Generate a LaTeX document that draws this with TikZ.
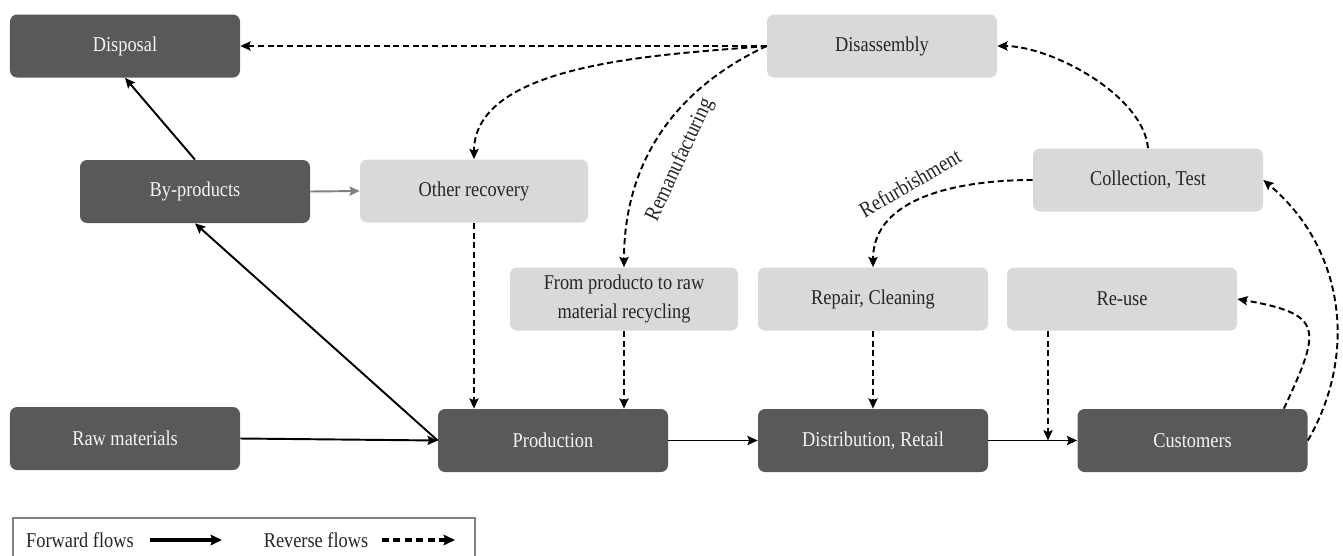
\documentclass[tikz,border=0pt]{standalone}
\usepackage{fontspec}
\setmainfont{Liberation Serif}[FakeStretch=0.87]
\usetikzlibrary{arrows.meta,positioning}

\definecolor{darkfill}{HTML}{595959}
\definecolor{lightfill}{HTML}{D9D9D9}
\definecolor{darktext}{HTML}{262626}
\definecolor{lighttext}{HTML}{F4F4F4}

\tikzset{
  darkbox/.style={
    shape = rectangle,
    rounded corners = 4pt,
    fill = darkfill,
    text = lighttext,
    minimum width = 4.6cm,
    minimum height = 1.26cm,
    inner sep = 0pt,
    align = center,
    font = \fontsize{12}{16}\selectfont
  },
  lightbox/.style={
    darkbox,
    fill = lightfill,
    text = darktext
  },
}
\tikzset{
  fwd/.style={
    line width = 1.1pt,
    -{Stealth[length=5.8pt,width=5.2pt,inset=1pt]}
  },
  rev/.style={
    fwd,
    dash pattern = on 3.5pt off 2pt
  },
  flowlabel/.style={
    font = \fontsize{12.5}{14}\selectfont,
    text = darktext,
    inner sep = 1pt
  },
  legendarrow/.style={
    line width = 1.8pt,
    -{Stealth[length=6.5pt,width=6pt,inset=1pt]}
  }
}

\begin{document}
\begin{tikzpicture}
  \useasboundingbox (0,0) rectangle (26.86,-11.1);
  \fill[white] (0,0) rectangle (26.86,-11.1);

  % forward chain
  \node[darkbox] (disp) at (2.5,-0.92) {Disposal};
  \node[darkbox] (byp)  at (3.9,-3.83) {By-products};
  \node[darkbox] (raw)  at (2.5,-8.77) {Raw materials};
  \node[darkbox] (prod) at (11.06,-8.81) {Production};
  \node[darkbox] (dist) at (17.46,-8.81) {Distribution, Retail};
  \node[darkbox] (cust) at (23.85,-8.81) {Customers};

  % recovery options
  \node[lightbox] (disa)  at (17.64,-0.92) {Disassembly};
  \node[lightbox, minimum width=4.56cm] (other) at (9.48,-3.82) {Other recovery};
  \node[lightbox] (coll)  at (22.96,-3.6) {Collection, Test};
  \node[lightbox, minimum width=4.56cm] (recyc) at (12.48,-5.98) {From producto to raw\\material recycling};
  \node[lightbox] (repair) at (17.46,-5.98) {Repair, Cleaning};
  \node[lightbox] (reuse) at (22.44,-5.98) {Re-use};

  \draw[fwd] (raw.east) -- (prod.west);
  \draw[fwd] (prod.west) -- (byp.south);
  \draw[fwd] (byp.north) -- (disp.south);
  \draw[fwd, draw=gray, fill=gray] (byp.east) -- (other.west);
  \draw[fwd] (prod.east) -- (dist.west);
  \draw[fwd] (dist.east) -- (cust.west);

  \draw[rev] (disa.west) -- (disp.east);
  \draw[rev] (disa.west) to[out=185,in=90,looseness=0.8] (other.north);
  \draw[rev] (disa.west) to[out=205,in=90] (recyc.north);
  \draw[rev] (coll.north) to[out=95,in=0,looseness=0.75] (disa.east);
  \draw[rev] (coll.west) to[out=180,in=90] (repair.north);
  \draw[rev] (cust.east) to[out=60,in=-40] (coll.east);
  \draw[rev] ([xshift=-0.48cm]cust.north east) to[out=65,in=-10,looseness=1.9] (reuse.east);
  \coordinate (drop) at (20.96,-8.81);
  \draw[rev] (reuse.south -| drop) -- (drop);
  \draw[rev] (repair.south) -- (dist.north);
  \draw[rev] (recyc.south) -- (recyc.south |- prod.north);
  \draw[rev] (other.south) -- (other.south |- prod.north);

  \node[flowlabel, rotate=65] (remanlab) at (13.6,-3.2) {Remanufacturing};
  \node[flowlabel, rotate=30] (refurblab) at (18.2,-3.66) {Refurbishment};

  % legend
  \draw[line width=0.6pt, draw=gray] (0.26,-10.36) rectangle (9.5,-11.4);
  \node[flowlabel, font=\fontsize{12}{14}\selectfont] (fwdlab) at (1.6,-10.8) {Forward flows};
  \node[flowlabel, font=\fontsize{12}{14}\selectfont] (revlab) at (6.32,-10.8) {Reverse flows};
  \coordinate (fwdstart) at (3.0,-10.8);
  \coordinate (fwdend) at (4.44,-10.8);
  \coordinate (revstart) at (7.64,-10.8);
  \coordinate (revend) at (9.1,-10.8);
  \draw[legendarrow] (fwdstart) -- (fwdend);
  \draw[legendarrow, dash pattern=on 4pt off 2.5pt] (revstart) -- (revend);
\end{tikzpicture}
\end{document}
